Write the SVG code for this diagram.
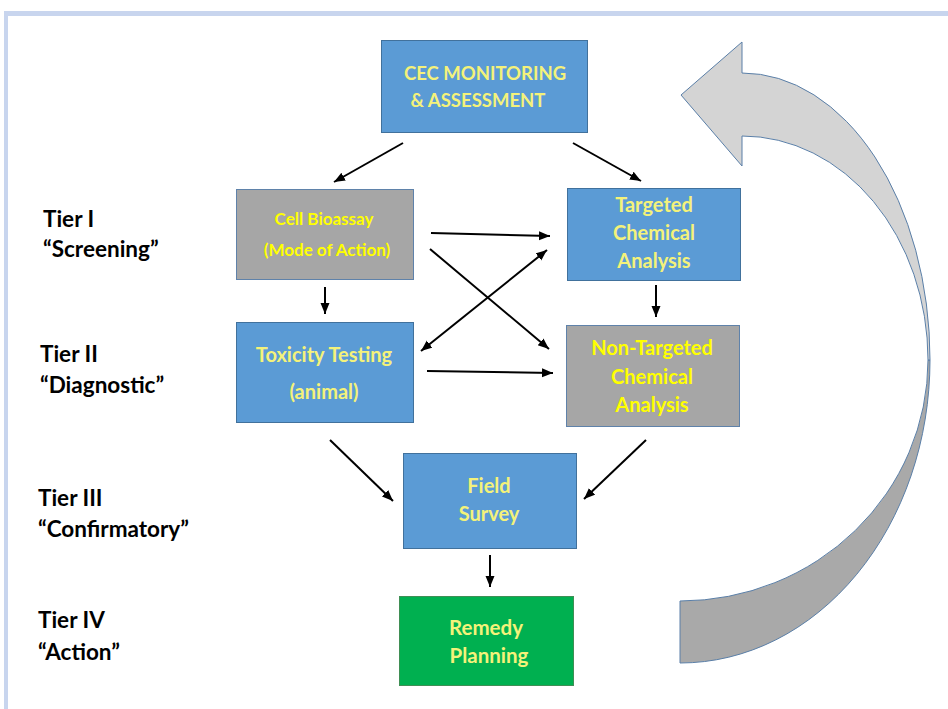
<svg xmlns="http://www.w3.org/2000/svg" width="948" height="709" viewBox="0 0 948 709">
<defs>
<marker id="ah" markerUnits="userSpaceOnUse" markerWidth="12" markerHeight="10" refX="11" refY="4.5" orient="auto-start-reverse">
<path d="M0,0 L11,4.5 L0,9 z" fill="#000"/>
</marker>
<style>
.box-blue{fill:#5b9bd5;stroke:#41719c;stroke-width:1}
.box-gray{fill:#a6a6a6;stroke:#5f82aa;stroke-width:1}
.box-green{fill:#00b050;stroke:#3f8f55;stroke-width:1}
.t{font-family:Lato,"Open Sans","Liberation Sans",sans-serif;font-weight:bold;text-anchor:middle}
.ty{fill:#f4f27a}
.tb{fill:#ffff00}
.tier{font-family:Lato,"Open Sans","Liberation Sans",sans-serif;font-weight:bold;font-size:22.5px;fill:#000}
.c{stroke:#000;stroke-width:2;fill:none;marker-end:url(#ah)}
</style>
</defs>
<rect x="0" y="0" width="948" height="709" fill="#fff"/>
<rect x="4" y="11" width="944" height="5" fill="#c8d5ee"/>
<rect x="4" y="11" width="4" height="698" fill="#c8d5ee"/>

<g id="cycle-arrow" stroke="#5a7fa8" stroke-width="1">
<path d="M930,360 A250,303 0 0 1 680,663 L680,601 A248,241 0 0 0 928,360 Z" fill="#a9a9a9"/>
<path d="M681,95 L742,42 L742,73 A188,287 0 0 1 930,360 L928,360 A186,224 0 0 0 742,136 L742,166 Z" fill="#d4d4d4"/>
</g>

<g id="tiers">
<text class="tier" x="43" y="227">Tier I</text>
<text class="tier" x="43" y="257">“Screening”</text>
<text class="tier" x="40" y="362">Tier II</text>
<text class="tier" x="40" y="393">“Diagnostic”</text>
<text class="tier" x="38" y="506">Tier III</text>
<text class="tier" x="38" y="537">“Confirmatory”</text>
<text class="tier" x="38" y="628">Tier IV</text>
<text class="tier" x="38" y="660">“Action”</text>
</g>

<g id="connectors">
<line class="c" x1="403" y1="143" x2="334" y2="182"/>
<line class="c" x1="573" y1="143" x2="641" y2="181"/>
<line class="c" x1="431" y1="233" x2="550" y2="236"/>
<line class="c" x1="430" y1="249" x2="549" y2="349"/>
<line class="c" x1="547" y1="250" x2="421" y2="351" style="marker-start:url(#ah)"/>
<line class="c" x1="427" y1="371" x2="553" y2="373"/>
<line class="c" x1="325" y1="287" x2="325" y2="314"/>
<line class="c" x1="656" y1="285" x2="656" y2="317"/>
<line class="c" x1="330" y1="440" x2="393" y2="501"/>
<line class="c" x1="646" y1="440" x2="584" y2="499"/>
<line class="c" x1="490" y1="555" x2="490" y2="587"/>
</g>

<g id="cec">
<rect class="box-blue" x="381.5" y="40.5" width="206" height="92"/>
<text class="t ty" x="485" y="80" font-size="18.5">CEC MONITORING</text>
<text class="t ty" x="478" y="107" font-size="18.5">&amp; ASSESSMENT</text>
</g>

<g id="cell-bioassay">
<rect class="box-gray" x="236.5" y="189.5" width="177" height="90"/>
<text class="t tb" x="324" y="225" font-size="17">Cell Bioassay</text>
<text class="t tb" x="327" y="256" font-size="17">(Mode of Action)</text>
</g>

<g id="targeted">
<rect class="box-blue" x="567.5" y="188.5" width="173" height="92"/>
<text class="t ty" x="654" y="212" font-size="20">Targeted</text>
<text class="t ty" x="654" y="240" font-size="20">Chemical</text>
<text class="t ty" x="654" y="268" font-size="20">Analysis</text>
</g>

<g id="toxicity">
<rect class="box-blue" x="236.5" y="322.5" width="177" height="100"/>
<text class="t ty" x="324" y="362" font-size="20">Toxicity Testing</text>
<text class="t ty" x="324" y="399" font-size="20">(animal)</text>
</g>

<g id="non-targeted">
<rect class="box-gray" x="566.5" y="325.5" width="173" height="101"/>
<text class="t tb" x="652" y="355" font-size="20">Non-Targeted</text>
<text class="t tb" x="652" y="384" font-size="20">Chemical</text>
<text class="t tb" x="652" y="412" font-size="20">Analysis</text>
</g>

<g id="field-survey">
<rect class="box-blue" x="403.5" y="453.5" width="173" height="95"/>
<text class="t ty" x="489" y="493" font-size="20">Field</text>
<text class="t ty" x="489" y="521" font-size="20">Survey</text>
</g>

<g id="remedy">
<rect class="box-green" x="399.5" y="596.5" width="174" height="89"/>
<text class="t ty" x="486" y="635" font-size="20.5">Remedy</text>
<text class="t ty" x="489" y="663" font-size="20.5">Planning</text>
</g>
</svg>
